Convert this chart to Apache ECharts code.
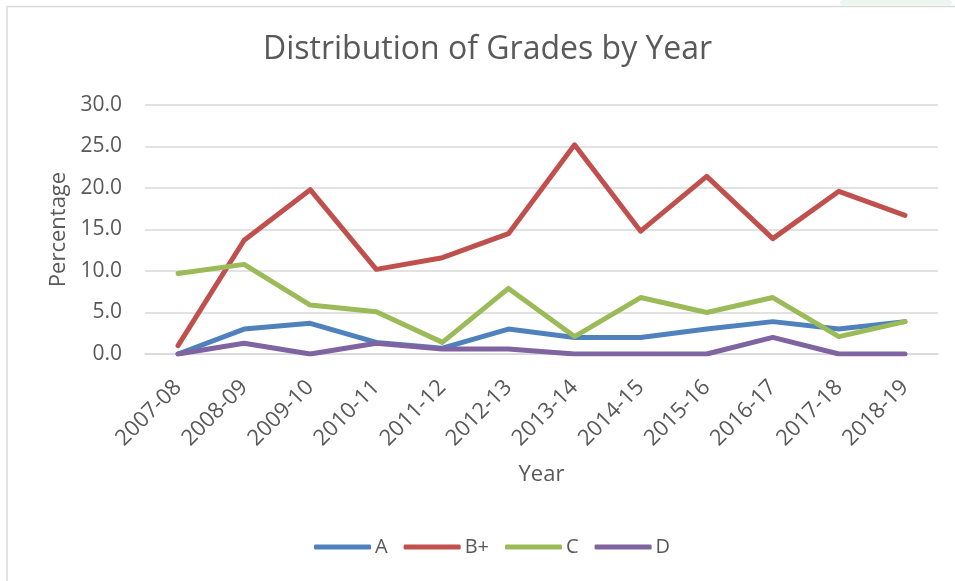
<!DOCTYPE html>
<html>
<head>
<meta charset="utf-8">
<script src="https://cdn.jsdelivr.net/npm/echarts@6/dist/echarts.min.js"></script>
<style>
  html, body { margin: 0; padding: 0; background: #fff; }
  #chart { width: 955px; height: 581px; }
</style>
</head>
<body>
<div id="chart"></div>
<script>
const years = ["2007-08", "2008-09", "2009-10", "2010-11", "2011-12", "2012-13",
  "2013-14", "2014-15", "2015-16", "2016-17", "2017-18", "2018-19"];
const gradeA = [0, 3.0, 3.7, 1.4, 0.7, 3.0, 2.0, 2.0, 3.0, 3.9, 3.0, 3.9];
const gradeBplus = [1.0, 13.7, 19.8, 10.2, 11.6, 14.5, 25.2, 14.8, 21.4, 13.9, 19.6, 16.7];
const gradeC = [9.7, 10.8, 5.9, 5.1, 1.4, 7.9, 2.1, 6.8, 5.0, 6.8, 2.1, 3.9];
const gradeD = [0, 1.3, 0, 1.3, 0.6, 0.6, 0, 0, 0, 2.0, 0, 0];

const font = "'Open Sans', sans-serif";
const textColor = "#595959";

const chart = echarts.init(document.getElementById("chart"));

const mkLine = (name, data, color) => ({
  name: name,
  type: "line",
  data: data,
  symbol: "none",
  color: color,
  lineStyle: { width: 5, color: color, cap: "round", join: "round" },
});

const option = {
  animation: false,
  backgroundColor: "#fff",
  title: {
    text: "Distribution of Grades by Year",
    left: 258,
    top: 29,
    textStyle: { color: textColor, fontFamily: font, fontSize: 32, fontWeight: "normal" },
  },
  grid: { left: 145, right: 17, top: 105, bottom: 227 },
  xAxis: {
    type: "category",
    data: years,
    boundaryGap: true,
    name: "Year",
    nameLocation: "middle",
    nameGap: 110,
    nameTextStyle: { color: textColor, fontFamily: font, fontSize: 22 },
    axisLine: { lineStyle: { color: "#d9d9d9", width: 1.5 } },
    axisTick: { show: false },
    axisLabel: { rotate: 45, color: textColor, fontFamily: font, fontSize: 22, margin: 30 },
  },
  yAxis: {
    type: "value",
    min: 0,
    max: 30,
    interval: 5,
    name: "Percentage",
    nameLocation: "middle",
    nameGap: 75,
    nameTextStyle: { color: textColor, fontFamily: font, fontSize: 22 },
    axisLine: { show: false },
    axisTick: { show: false },
    axisLabel: {
      color: textColor, fontFamily: font, fontSize: 21, margin: 23,
      formatter: (v) => v.toFixed(1),
    },
    splitLine: { lineStyle: { color: "#d9d9d9", width: 1.5 } },
  },
  legend: {
    top: 532,
    left: 309,
    icon: "roundRect",
    itemWidth: 57,
    itemHeight: 5,
    itemGap: 16,
    textStyle: { color: textColor, fontFamily: font, fontSize: 20, padding: [0, 0, 0, -1] },
    data: ["A", "B+", "C", "D"],
  },
  graphic: [
    {
      type: "rect",
      shape: { x: 7, y: 6.5, width: 1000, height: 600 },
      style: { fill: null, stroke: "#d9d9d9", lineWidth: 1.5 },
      silent: true,
    },
    {
      type: "rect",
      shape: { x: 840, y: 0, width: 112, height: 5, r: 3 },
      style: { fill: "#edf5f1" },
      silent: true,
    },
  ],
  series: [
    mkLine("A", gradeA, "#4f81bd"),
    mkLine("B+", gradeBplus, "#c0504d"),
    mkLine("C", gradeC, "#9bbb59"),
    mkLine("D", gradeD, "#8064a2"),
  ],
};

chart.setOption(option);
</script>
</body>
</html>
